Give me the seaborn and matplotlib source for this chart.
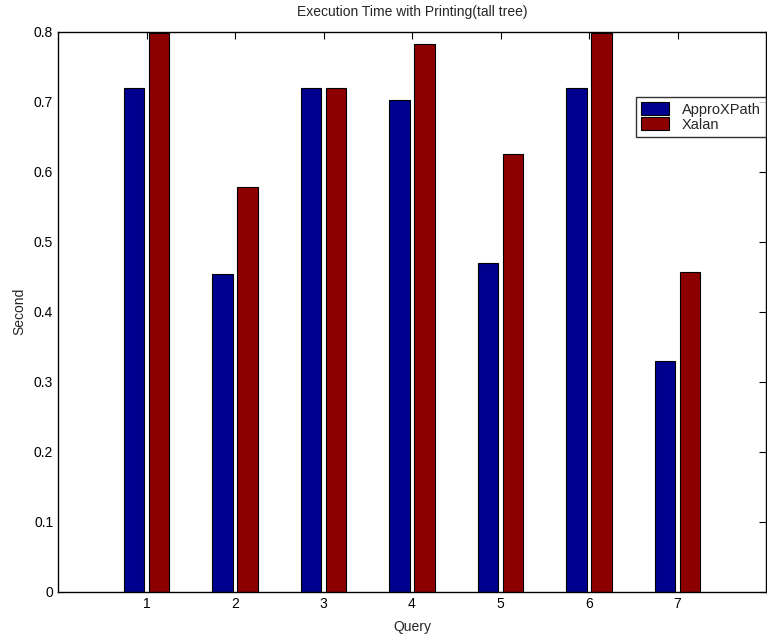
import matplotlib
matplotlib.use("Agg")
import matplotlib.pyplot as plt
import seaborn as sns
import pandas as pd

queries = ["1", "2", "3", "4", "5", "6", "7"]
approxpath = [0.719, 0.454, 0.719, 0.703, 0.470, 0.719, 0.329]
xalan = [0.798, 0.578, 0.719, 0.782, 0.625, 0.798, 0.457]
series_names = ["ApproXPath", "Xalan"]
yticks = [0, 0.1, 0.2, 0.3, 0.4, 0.5, 0.6, 0.7, 0.8]
ytick_labels = ["0", "0.1", "0.2", "0.3", "0.4", "0.5", "0.6", "0.7", "0.8"]

df = pd.DataFrame({
    "Query": queries * 2,
    "Second": approxpath + xalan,
    "Series": [series_names[0]] * len(queries) + [series_names[1]] * len(queries),
})

sns.set_style("white")
plt.rcParams["font.family"] = ["Liberation Sans", "DejaVu Sans"]

fig = plt.figure(figsize=(7.67, 6.38), dpi=100)
ax = fig.add_axes([58 / 767, 46.3 / 638, 708 / 767, 560 / 638])

sns.barplot(data=df, x="Query", y="Second", hue="Series", order=queries,
            hue_order=series_names, palette=["#00008F", "#8C0000"],
            width=0.57, gap=0.18, edgecolor="black", linewidth=0.8,
            saturation=1, ax=ax)

ax.set_xlim(-1, 7)
ax.set_ylim(0, 0.8)
ax.set_yticks(yticks)
ax.set_yticklabels(ytick_labels)
for s in ax.spines.values():
    s.set_visible(True)
    s.set_color("black")
    s.set_linewidth(1.0)
ax.tick_params(direction="in", length=5, width=0.8, top=True, right=True,
               labelsize=10, colors="black")
ax.set_title("Execution Time with Printing(tall tree)", fontsize=10, pad=11)
ax.set_xlabel("Query", fontsize=10, labelpad=6.5)
ax.set_ylabel("Second", fontsize=10, labelpad=5)

leg = ax.legend(loc="upper right", bbox_to_anchor=(1.0, 0.883), fontsize=10.5,
                frameon=True, fancybox=False, edgecolor="black",
                borderpad=0.35, labelspacing=0.05, handlelength=1.9,
                handleheight=0.95, handletextpad=0.9, borderaxespad=0)
leg.get_frame().set_linewidth(1.0)

fig.savefig("out.png", dpi=100)
